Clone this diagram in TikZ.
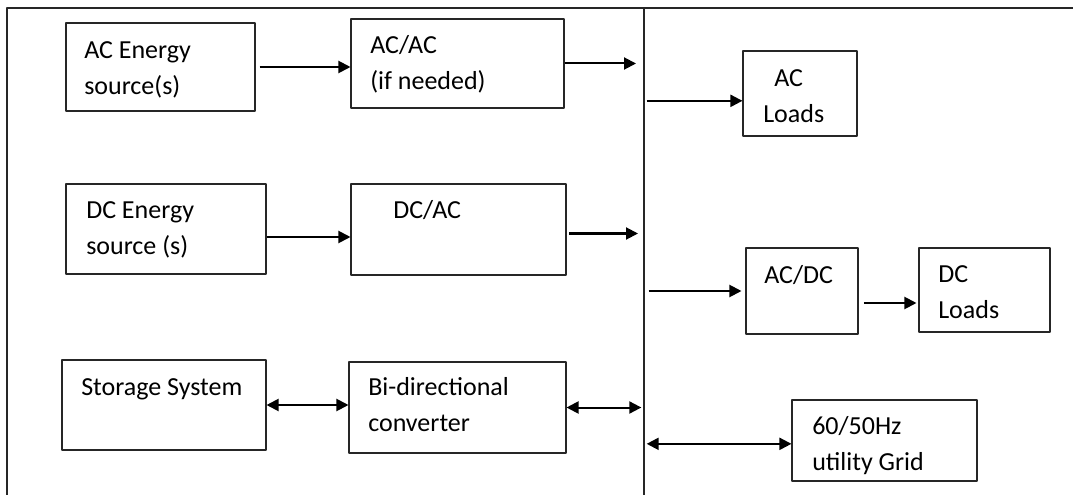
\documentclass[tikz,border=0pt]{standalone}
\usepackage{fontspec}
\setmainfont{Carlito}
\usetikzlibrary{arrows.meta}
\begin{document}
\begin{tikzpicture}[x=0.75pt,y=-0.75pt,font=\fontsize{19.5}{27}\selectfont,line join=round,>={Triangle[length=9pt,width=9pt]},
  blk/.style={draw=black!85,line width=0.8pt,inner sep=0pt},
  txt/.style={anchor=north west,align=left,inner sep=0pt},
  flow/.style={line width=1.5pt}]
\useasboundingbox (0,0) rectangle (1073,495);
% frame and bus
\draw[black!85,line width=0.8pt] (1073,8) -- (7,8) -- (7,495);
\coordinate (bus) at (644,8);
\coordinate (busend) at (644,495);
\draw[black!85,line width=0.8pt] (bus) -- (busend);
% blocks: name/x/y/width/height
\foreach \n/\x/\y/\w/\h in {acsrc/160.5/67/189/88, dcsrc/166/229/200/90, store/164/405/204/90,
  acac/457.5/63.5/213/89, dcac/458.5/229.5/215/91, bidir/457.5/407.5/217/91,
  acload/800/93.5/114/85, acdc/802/291/112/86, dcload/984.5/290/131/84, grid/884.5/440.5/185/81}
  \node[blk,minimum width=\w*0.75pt,minimum height=\h*0.75pt] (\n) at (\x,\y) {};
% labels
\foreach \n/\x/\y/\t in {acsrc/84/33/{AC Energy\\source(s)}, dcsrc/86/193/{DC Energy\\source (s)},
  store/81/370/{Storage System}, acac/370/28/{AC/AC\\(if needed)}, dcac/393/193/{DC/AC},
  bidir/368/370/{Bi-directional\\converter}, acload/763/61/{\hspace*{8.25pt}AC\\Loads},
  acdc/764/258/{AC/DC}, dcload/938/257/{DC\\Loads}, grid/812/409/{60/50Hz\\utility Grid}}
  \node[txt] (\n-t) at (\x,\y) {\strut\t};
% connectors
\draw[flow,->,shorten <=3pt] (acsrc.east) -- (acsrc.east -| acac.west);
\draw[flow,->,shorten >=6pt] (acac.east) -- (acac.east -| bus);
\draw[flow,->,shorten <=2pt] ([yshift=-5.5pt]acload.west -| bus) -- ([yshift=-5.5pt]acload.west);
\draw[flow,->] ([yshift=-6pt]dcsrc.east) -- ([yshift=-6pt]dcsrc.east -| dcac.west);
\draw[flow,->,shorten <=2pt,shorten >=4.5pt] ([yshift=-3pt]dcac.east) -- ([yshift=-3pt]dcac.east -| bus);
\draw[flow,->,shorten <=3.5pt,shorten >=3pt] (acdc.west -| bus) -- (acdc.west);
\draw[flow,->,shorten <=4pt,shorten >=1.5pt] ([yshift=-9pt]acdc.east) -- ([yshift=-9pt]acdc.east -| dcload.west);
\draw[flow,<->] (store.east) -- (store.east -| bidir.west);
\draw[flow,<->,shorten >=2pt] (bidir.east) -- (bidir.east -| bus);
\draw[flow,<->,shorten <=2pt] ([yshift=-2.5pt]grid.west -| bus) -- ([yshift=-2.5pt]grid.west);
\end{tikzpicture}
\end{document}
